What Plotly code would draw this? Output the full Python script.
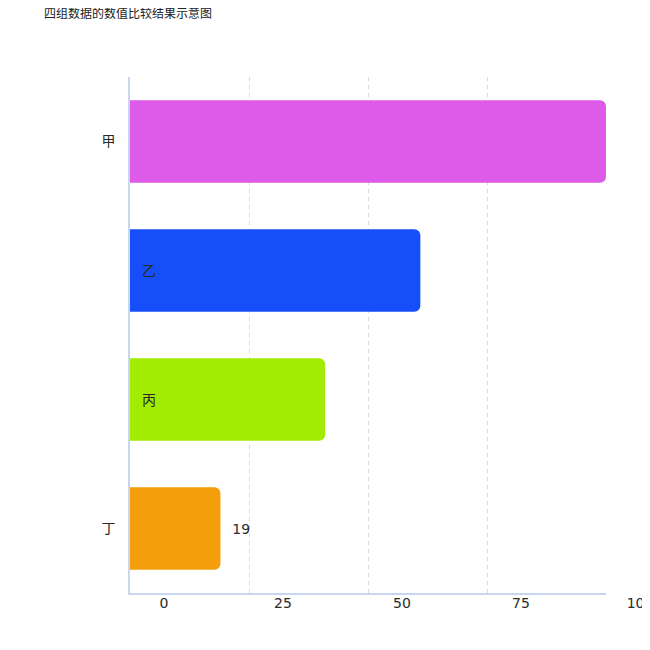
import plotly.graph_objects as go

title_text = "四组数据的数值比较结果示意图"
categories = ["甲", "乙", "丙", "丁"]
y_ticktext = ["甲", "", "", "丁"]
values = [100, 61, 41, 19]
bar_text = ["", "乙", "丙", "19"]
text_pos = ["none", "inside", "inside", "outside"]
colors = ["#DE5AE8", "#164FFA", "#A2EB03", "#F59E0B"]
x_tickvals = [0, 25, 50, 75, 100]
x_ticktext = ["0", "25", "50", "75", "100"]

FONT = "DejaVu Sans, Noto Sans CJK SC, sans-serif"

fig = go.Figure(
    go.Bar(
        x=values,
        y=categories,
        orientation="h",
        marker=dict(color=colors, cornerradius=6, line=dict(width=0)),
        text=["  " + t for t in bar_text],
        textposition=text_pos,
        insidetextanchor="start",
        textfont=dict(color="#2a2a2a", size=14, family=FONT),
        cliponaxis=False,
        hoverinfo="skip",
    )
)

fig.update_layout(
    width=650,
    height=650,
    margin=dict(l=122, r=52, t=69, b=65, autoexpand=False),
    paper_bgcolor="white",
    plot_bgcolor="white",
    font=dict(family=FONT, size=14, color="#2a2a2a"),
    title=dict(
        text=title_text,
        x=36 / 650,
        xanchor="left",
        xref="container",
        y=1 - 2 / 650,
        yanchor="top",
        pad=dict(t=0, b=0, l=0, r=0),
        font=dict(size=12, color="#222222", family=FONT),
    ),
    bargap=0.36,
    showlegend=False,
)

fig.update_xaxes(
    automargin=False,
    range=[0, 100],
    tickvals=x_tickvals,
    ticktext=x_ticktext,
    ticklabelshift=34,
    ticklabelstandoff=-4,
    ticklabeloverflow="allow",
    showgrid=True,
    gridcolor="#D3DAE8",
    griddash="4px,4px",
    gridwidth=1,
    zeroline=False,
    showline=True,
    linecolor="#C9D6F0",
    linewidth=1.5,
    ticks="",
    tickfont=dict(size=14),
)

fig.update_yaxes(
    automargin=False,
    categoryorder="array",
    categoryarray=categories[::-1],
    tickvals=categories,
    ticktext=y_ticktext,
    showgrid=False,
    zeroline=False,
    showline=True,
    linecolor="#C9D6F0",
    linewidth=1.5,
    ticks="",
    ticklabelstandoff=10,
    tickfont=dict(size=14),
)

fig.write_html("out.html")
